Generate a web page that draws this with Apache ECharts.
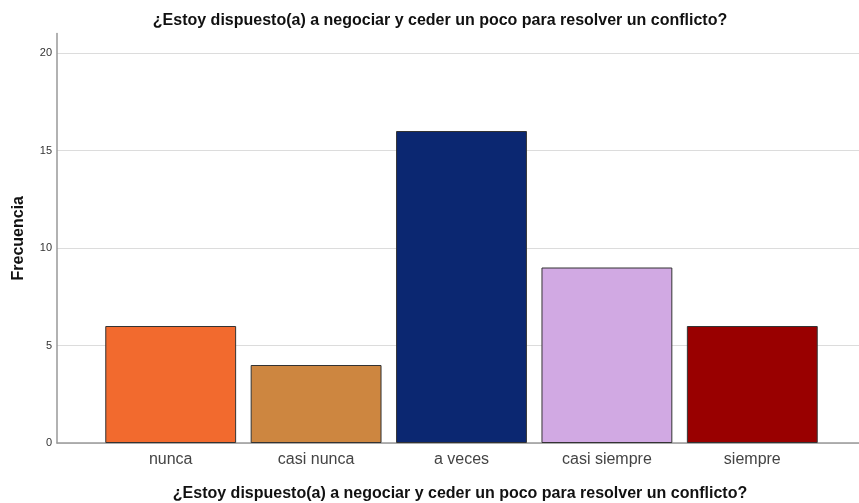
<!DOCTYPE html>
<html><head><meta charset="utf-8">
<script src="https://cdn.jsdelivr.net/npm/echarts@6/dist/echarts.min.js"></script>
<style>html,body{margin:0;padding:0;background:#fff}#c{width:859px;height:503px}</style>
</head><body><div id="c"></div>
<script>
const title = '¿Estoy dispuesto(a) a negociar y ceder un poco para resolver un conflicto?';
const xAxisTitle = '¿Estoy dispuesto(a) a negociar y ceder un poco para resolver un conflicto?';
const yAxisTitle = 'Frecuencia';
const categories = ['nunca', 'casi nunca', 'a veces', 'casi siempre', 'siempre'];
const values = [6, 4, 16, 9, 6];
const colors = ['#F26A2E', '#CD8640', '#0B2771', '#D1A9E3', '#990000'];
const yTicks = [0, 5, 10, 15, 20];

const chart = echarts.init(document.getElementById('c'));
const font = 'Liberation Sans, Arial, sans-serif';
chart.setOption({
  animation: false,
  title: [{
    text: title, left: 435, top: 8, textAlign: 'center',
    textStyle: {fontFamily: font, fontSize: 16, fontWeight: 'bold', color: '#111'}
  }, {
    text: xAxisTitle, left: 455, top: 481, textAlign: 'center',
    textStyle: {fontFamily: font, fontSize: 16, fontWeight: 'bold', color: '#111'}
  }],
  grid: [
    {left: 57, right: 0, top: 33.5, bottom: 60},
    {left: 57, right: 0, top: 53, bottom: 60},
    {left: 98, right: 34, top: 53, bottom: 60}
  ],
  xAxis: [
    {gridIndex: 0, type: 'category', data: categories, axisLine: {show: true, lineStyle: {color: '#999', width: 1.5}}, axisTick: {show: false}, axisLabel: {show: false}},
    {gridIndex: 1, type: 'category', data: categories, show: false},
    {gridIndex: 2, type: 'category', data: categories,
     axisLine: {show: false}, axisTick: {show: false},
     axisLabel: {margin: 9, fontFamily: font, fontSize: 16, color: '#444'}}
  ],
  yAxis: [
    {gridIndex: 0, type: 'value', min: 0, max: 21, axisLine: {show: true, lineStyle: {color: '#999', width: 1.5}}, axisTick: {show: false}, axisLabel: {show: false}, splitLine: {show: false},
     name: yAxisTitle, nameLocation: 'middle', nameGap: 30, nameRotate: 90,
     nameTextStyle: {fontFamily: font, fontSize: 16, fontWeight: 'bold', color: '#111'}},
    {gridIndex: 1, type: 'value', min: 0, max: 20, interval: 5,
     axisLine: {show: false}, axisTick: {show: false},
     axisLabel: {margin: 5, fontFamily: font, fontSize: 11, color: '#333', formatter: v => yTicks.includes(v) ? String(v) : ''},
     splitLine: {show: true, lineStyle: {color: '#dcdcdc', width: 1}}},
    {gridIndex: 2, type: 'value', min: 0, max: 20, show: false}
  ],
  series: [{
    type: 'bar', xAxisIndex: 2, yAxisIndex: 2,
    barCategoryGap: '10%',
    data: values.map((v, i) => ({value: v, itemStyle: {color: colors[i]}})),
    itemStyle: {borderColor: '#333', borderWidth: 1}
  }]
});
</script></body></html>
